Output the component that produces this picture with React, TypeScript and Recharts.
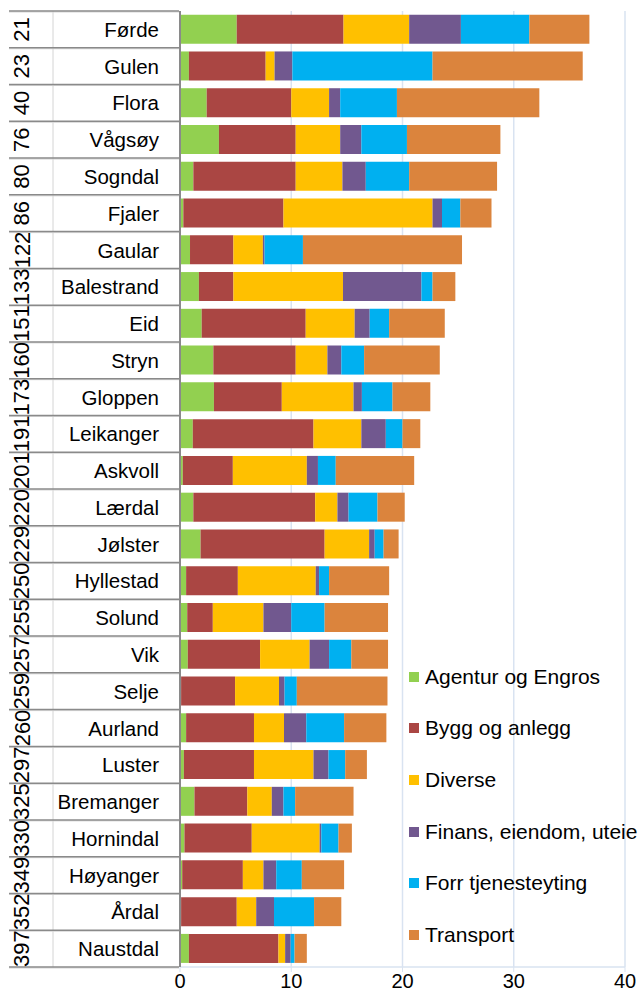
import React from 'react'
import { BarChart, Bar, XAxis, YAxis, CartesianGrid, Legend } from 'recharts'

// municipalities, ordered by rank
const kommuner = ['Førde', 'Gulen', 'Flora', 'Vågsøy', 'Sogndal', 'Fjaler', 'Gaular', 'Balestrand', 'Eid', 'Stryn', 'Gloppen', 'Leikanger', 'Askvoll', 'Lærdal', 'Jølster', 'Hyllestad', 'Solund', 'Vik', 'Selje', 'Aurland', 'Luster', 'Bremanger', 'Hornindal', 'Høyanger', 'Årdal', 'Naustdal']
const rang = [21, 23, 40, 76, 80, 86, 122, 133, 151, 160, 173, 191, 201, 220, 229, 250, 255, 257, 259, 260, 297, 325, 330, 349, 352, 397]

const agentur = [5.1, 0.8, 2.4, 3.5, 1.2, 0.3, 0.9, 1.7, 1.95, 3.0, 3.05, 1.15, 0.25, 1.2, 1.85, 0.55, 0.65, 0.7, 0.1, 0.55, 0.35, 1.3, 0.4, 0.2, 0.1, 0.8]
const bygg = [9.6, 6.9, 7.6, 6.9, 9.2, 9.0, 3.9, 3.1, 9.35, 7.4, 6.1, 10.85, 4.5, 10.95, 11.15, 4.65, 2.3, 6.5, 4.85, 6.1, 6.3, 4.75, 6.05, 5.45, 5.0, 8.05]
const diverse = [5.9, 0.8, 3.4, 4.0, 4.2, 13.4, 2.65, 9.85, 4.4, 2.85, 6.45, 4.3, 6.65, 2.0, 4.0, 7.0, 4.55, 4.45, 3.95, 2.7, 5.35, 2.2, 6.1, 1.85, 1.75, 0.6]
const finans = [4.65, 1.6, 1.0, 1.9, 2.1, 0.85, 0.15, 7.05, 1.35, 1.25, 0.75, 2.2, 1.0, 1.0, 0.5, 0.3, 2.5, 1.75, 0.5, 2.0, 1.35, 1.05, 0.15, 1.15, 1.6, 0.5]
const forr = [6.15, 12.6, 5.1, 4.1, 3.9, 1.65, 3.45, 1.0, 1.75, 2.05, 2.75, 1.5, 1.6, 2.6, 0.8, 0.9, 3.0, 2.0, 1.1, 3.4, 1.5, 1.05, 1.55, 2.3, 3.6, 0.35]
const transport = [5.4, 13.5, 12.8, 8.4, 7.9, 2.8, 14.3, 2.05, 5.0, 6.8, 3.4, 1.6, 7.05, 2.45, 1.35, 5.4, 5.7, 3.3, 8.15, 3.8, 1.95, 5.25, 1.2, 3.8, 2.45, 1.1]

const xTicks = [0, 10, 20, 30, 40]

const series = [
  { key: 'agentur', name: 'Agentur og Engros', color: '#92D050', values: agentur },
  { key: 'bygg', name: 'Bygg og anlegg', color: '#AA4643', values: bygg },
  { key: 'diverse', name: 'Diverse', color: '#FFC000', values: diverse },
  { key: 'finans', name: 'Finans, eiendom, uteie', color: '#71588F', values: finans },
  { key: 'forr', name: 'Forr tjenesteyting', color: '#00B0F0', values: forr },
  { key: 'transport', name: 'Transport', color: '#DB843D', values: transport },
]

const data = kommuner.map((navn, i) => {
  const row: { [k: string]: number | string } = { navn, rang: String(rang[i]) }
  series.forEach(s => { row[s.key] = s.values[i] })
  return row
})

const W = 642
const H = 1001
const TOP = 11
const XAXIS_H = 34
const BAND = (H - TOP - XAXIS_H) / kommuner.length
const FONT = '"Liberation Sans", Arial, sans-serif'

function NameTick({ y, payload }: any) {
  return (
    <text x={159} y={y} textAnchor="end" dominantBaseline="central" fontSize={20.5} fill="#000" fontFamily={FONT}>
      {payload.value}
    </text>
  )
}

// rank column + the table lines on the left
function RankTick({ y, payload, index }: any) {
  const top = y - BAND / 2
  const bot = y + BAND / 2
  const last = index === kommuner.length - 1
  return (
    <g>
      <line x1={53} x2={53} y1={top} y2={bot} stroke="#d4d4d4" strokeWidth={1} />
      <line x1={9} x2={179} y1={top + 1} y2={top + 1} stroke="#d6d6d6" strokeWidth={1} />
      <line x1={9} x2={179} y1={top} y2={top} stroke="#8a8a8a" strokeWidth={1.5} />
      {last && <line x1={9} x2={179} y1={bot + 1} y2={bot + 1} stroke="#d6d6d6" strokeWidth={1} />}
      {last && <line x1={9} x2={179} y1={bot} y2={bot} stroke="#8a8a8a" strokeWidth={1.5} />}
      <text x={22} y={y} transform={`rotate(-90, 22, ${y})`} textAnchor="middle" dominantBaseline="central" fontSize={22} fill="#000" fontFamily={FONT}>
        {payload.value}
      </text>
    </g>
  )
}

function LegendBox() {
  return (
    <div style={{ whiteSpace: 'nowrap', fontFamily: FONT }}>
      {series.map(s => (
        <div key={s.key} style={{ height: 51.6, display: 'flex', alignItems: 'center' }}>
          <span style={{ width: 10, height: 10, background: s.color, display: 'inline-block', marginRight: 6 }} />
          <span style={{ fontSize: 21, color: '#000' }}>{s.name}</span>
        </div>
      ))}
    </div>
  )
}

export default function App() {
  return (
    <div style={{ position: 'absolute', left: 0, top: 0, width: 641, height: H, overflow: 'hidden', background: '#fff', fontFamily: FONT }}>
      <BarChart width={W} height={H} data={data} layout="vertical" barCategoryGap="10%"
        margin={{ top: TOP, right: 17, bottom: 0, left: 0 }}>
        <CartesianGrid horizontal={false} stroke="#D9E3F1" strokeWidth={1.5} />
        <XAxis type="number" domain={[0, 40]} ticks={xTicks} height={XAXIS_H}
          axisLine={{ stroke: '#D9E3F1', strokeWidth: 1.5 }} tickLine={{ stroke: '#D9E3F1' }} tickSize={5}
          tick={{ fill: '#000', fontSize: 20, fontFamily: FONT }} />
        <YAxis yAxisId="navn" type="category" dataKey="navn" width={127} tick={<NameTick />}
          axisLine={{ stroke: '#8a8a8a', strokeWidth: 2 }} tickLine={false} interval={0} />
        <YAxis yAxisId="rang" type="category" dataKey="rang" width={53} tick={<RankTick />}
          axisLine={false} tickLine={false} interval={0} />
        <Legend layout="horizontal" verticalAlign="middle" align="center" content={<LegendBox />}
          wrapperStyle={{ position: 'absolute', left: 409, top: 651, width: 300 }} />
        {series.map(s => (
          <Bar key={s.key} dataKey={s.key} name={s.name} yAxisId="navn" stackId="a" fill={s.color} isAnimationActive={false} />
        ))}
      </BarChart>
    </div>
  )
}
